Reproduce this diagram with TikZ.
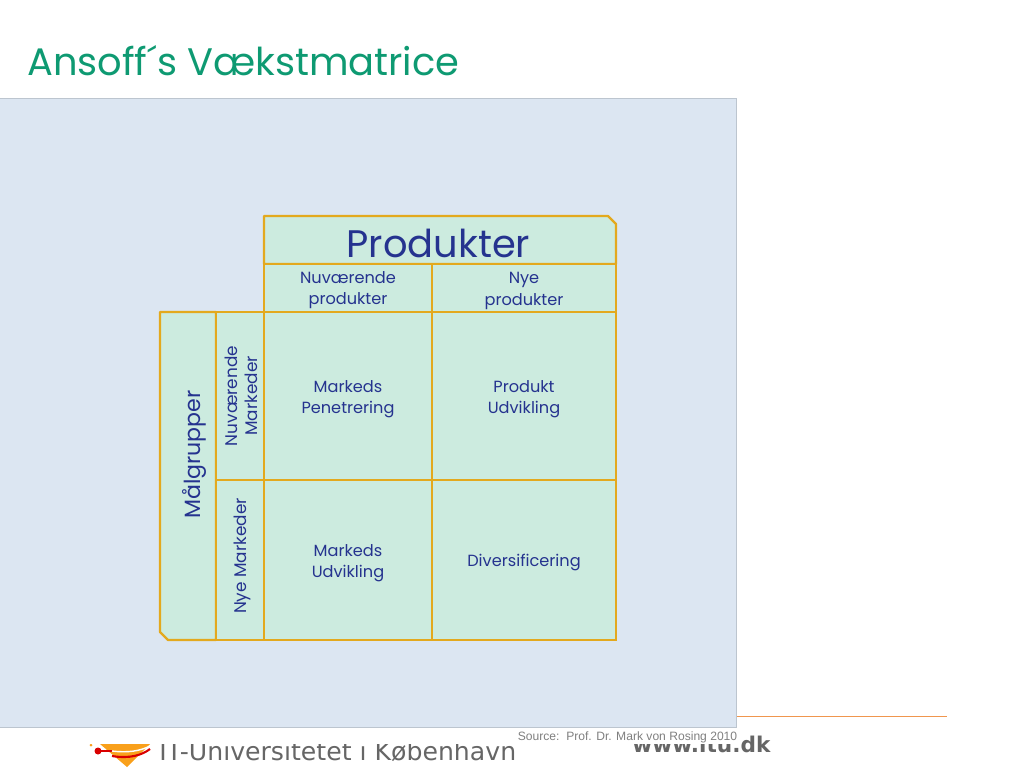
\documentclass[tikz,border=0pt]{standalone}
\usepackage{fontspec}
\setmainfont{Poppins}
\newfontfamily\logofont{DejaVu Sans}
\newfontfamily\sourcefont{Liberation Sans}
\definecolor{titlegreen}{HTML}{0E9A72}
\definecolor{panelblue}{HTML}{DCE6F2}
\definecolor{panelline}{HTML}{BCC5CF}
\definecolor{cellgreen}{HTML}{CCEBDF}
\definecolor{cellline}{HTML}{E3A91E}
\definecolor{textblue}{HTML}{25338F}
\definecolor{logogrey}{HTML}{666666}
\definecolor{logoorange}{HTML}{F9A01B}
\definecolor{footline}{HTML}{F0964E}
\tikzset{
    cell/.style={draw=cellline, fill=cellgreen, line width=1.7pt, minimum width=#1, inner sep=0pt},
    sidelabel/.style={text=textblue, align=center, inner sep=0pt, rotate=90, font=\fontsize{12}{14}\selectfont},
    framed/.style={draw=cellline, fill=cellgreen, line width=1.7pt, line join=round}
}
\begin{document}
\begin{tikzpicture}[x=0.025cm, y=-0.025cm]
    \useasboundingbox (0,0) rectangle (1024,768);

    % Logo and footer, cut off by the panel
    \fill[logoorange] (100,744) -- (150,744) -- (127,767) -- cycle;
    \fill[logoorange] (91,745) circle (1.5);
    \draw[red!85!black, line width=1.2pt] (98,751) -- (112,751);
    \fill[red!85!black] (98,751) circle (3.5);
    \draw[red!85!black, line width=1.5pt] (112,756) .. controls (130,759) and (142,755) .. (150,749);
    \draw[white, line width=1pt] (112,751) .. controls (128,753) and (140,751) .. (150,746);
    \node[anchor=base west, text=logogrey, inner sep=0pt, font=\logofont\fontsize{17.9}{22}\selectfont] (logotext) at (159,760) {IT-Universitetet i København};
    \node[anchor=base west, text=logogrey, inner sep=0pt, font=\logofont\bfseries\fontsize{15.4}{20}\selectfont] (website) at (632,752) {www.itu.dk};
    \fill[white] (0,700) rectangle (737,743.5);
    \draw[footline, line width=0.8pt] (737,716.5) -- (947,716.5);

    % Title and panel
    \node[anchor=base west, text=titlegreen, inner sep=0pt, font=\fontsize{27.3}{32}\selectfont] (title) at (27,76) {Ansoff´s Vækstmatrice};
    \draw[draw=panelline, fill=panelblue, line width=0.6pt] (-2,98.5) rectangle (736.5,727.5);
    \node[anchor=base east, text=gray, inner sep=0pt, font=\sourcefont\fontsize{8.6}{10}\selectfont] (source) at (737.5,740) {Source:\ \ Prof. Dr. Mark von Rosing 2010};

    % Outer boxes with cut corner
    \draw[framed] (264,264) -- (264,216) -- (608,216) -- (616,224) -- (616,264) -- cycle;
    \node[text=textblue, inner sep=0pt, font=\fontsize{27.3}{30}\selectfont] (produkter) at (438.5,243) {Produkter};
    \draw[framed] (216,312) -- (160,312) -- (160,632) -- (168,640) -- (216,640) -- cycle;
    \node[sidelabel, font=\fontsize{15.7}{18}\selectfont] (maalgrupper) at (194,454.5) {Målgrupper};

    % Matrix cells
    \node[cell=168*0.025cm, minimum height=48*0.025cm] (nuvprod) at (348,288) {};
    \node[cell=184*0.025cm, minimum height=48*0.025cm] (nyeprod) at (524,288) {};
    \node[cell=48*0.025cm, minimum height=168*0.025cm] (nuvmark) at (240,396) {};
    \node[cell=48*0.025cm, minimum height=160*0.025cm] (nyemark) at (240,560) {};
    \node[cell=168*0.025cm, minimum height=168*0.025cm] (penetrering) at (348,396) {};
    \node[cell=184*0.025cm, minimum height=168*0.025cm] (produkt) at (524,396) {};
    \node[cell=168*0.025cm, minimum height=160*0.025cm] (udvikling) at (348,560) {};
    \node[cell=184*0.025cm, minimum height=160*0.025cm] (diversi) at (524,560) {};

    % Cell texts
    \foreach \n/\x/\y/\t in {a/348/290/Nuværende\\produkter, b/524/291/Nye\\produkter, c/348/399/Markeds\\Penetrering, d/524/399/Produkt\\Udvikling, e/348/563/Markeds\\Udvikling, f/524/562/Diversificering} {
        \node[text=textblue, align=center, inner sep=0pt, font=\fontsize{11.5}{15}\selectfont] (txt\n) at (\x,\y) {\t};
    }
    \node[sidelabel] (nuvtxt) at (241.5,396) {Nuværende\\Markeder};
    \node[sidelabel] (nyetxt) at (242,556) {Nye Markeder};
\end{tikzpicture}
\end{document}
